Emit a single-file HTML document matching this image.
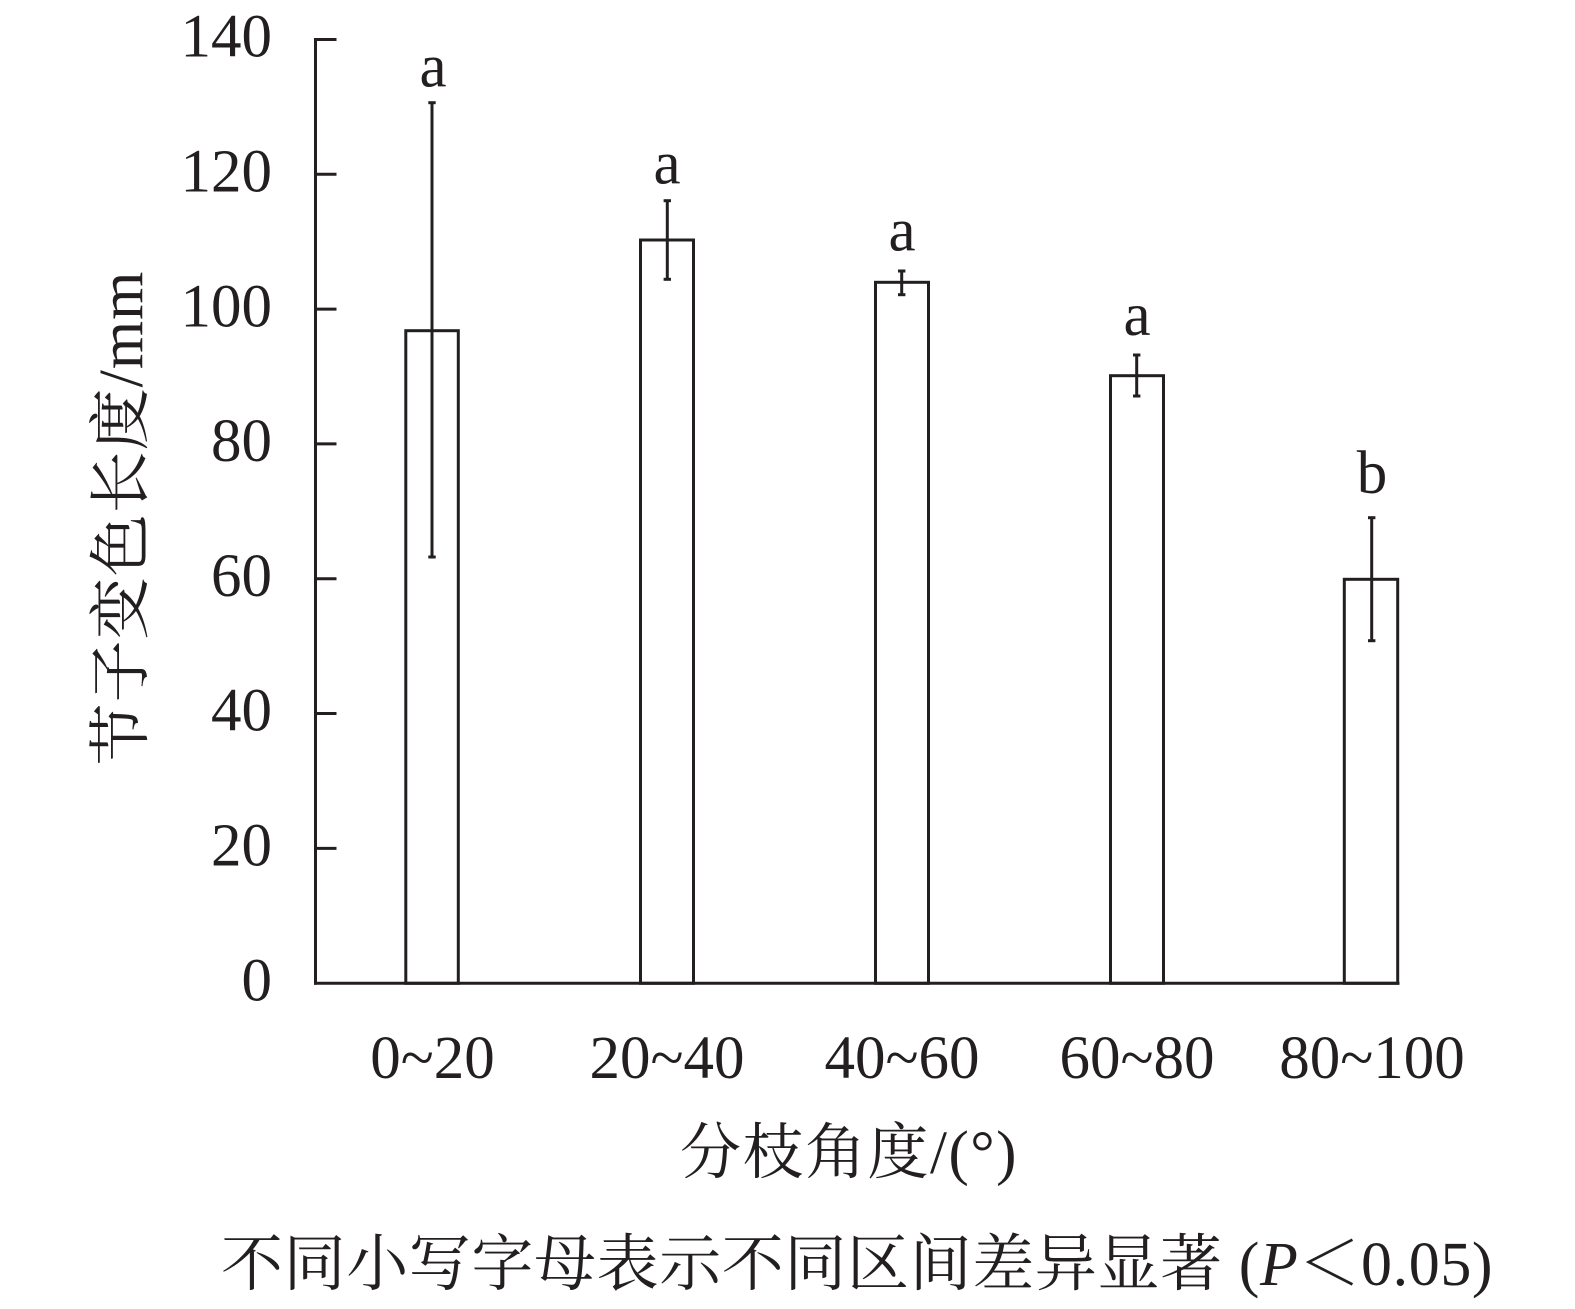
<!DOCTYPE html>
<html>
<head>
<meta charset="utf-8">
<style>
  html, body { margin: 0; padding: 0; background: #ffffff; }
  svg { display: block; }
  text { fill: #231f20; }
  .num { font-family: "Liberation Serif", "Noto Serif CJK SC", serif; font-size: 61px; }
  .cjk { font-family: "Liberation Serif", "Noto Serif CJK SC", serif; font-size: 61px; }
</style>
</head>
<body>
<svg width="1575" height="1309" viewBox="0 0 1575 1309" xmlns="http://www.w3.org/2000/svg">
  <rect width="1575" height="1309" fill="#ffffff"/>
  <g stroke="#231f20" stroke-width="3" fill="none" stroke-linecap="butt">
    <!-- axes -->
    <line x1="315.5" y1="38" x2="315.5" y2="984.8"/>
    <line x1="314" y1="983.3" x2="1399.5" y2="983.3"/>
    <!-- ticks -->
    <line x1="315.5" y1="39.5" x2="336.5" y2="39.5"/>
    <line x1="315.5" y1="174.3" x2="336.5" y2="174.3"/>
    <line x1="315.5" y1="309.1" x2="336.5" y2="309.1"/>
    <line x1="315.5" y1="443.9" x2="336.5" y2="443.9"/>
    <line x1="315.5" y1="578.7" x2="336.5" y2="578.7"/>
    <line x1="315.5" y1="713.5" x2="336.5" y2="713.5"/>
    <line x1="315.5" y1="848.4" x2="336.5" y2="848.4"/>

    <!-- bars -->
    <rect x="405.8" y="330.7" width="52.5" height="652.6"/>
    <rect x="640.5" y="240" width="53" height="743.3"/>
    <rect x="875.5" y="282.3" width="53" height="701"/>
    <rect x="1110.5" y="375.7" width="53" height="607.6"/>
    <rect x="1344.3" y="579.3" width="53.4" height="404"/>

    <!-- error bars -->
    <line x1="432" y1="102.7" x2="432" y2="557"/>
    <line x1="428.3" y1="102.7" x2="435.7" y2="102.7"/>
    <line x1="428.3" y1="557" x2="435.7" y2="557"/>

    <line x1="667.3" y1="200.7" x2="667.3" y2="279.3"/>
    <line x1="663.6" y1="200.7" x2="671" y2="200.7"/>
    <line x1="663.6" y1="279.3" x2="671" y2="279.3"/>

    <line x1="901.7" y1="271" x2="901.7" y2="294.7"/>
    <line x1="898" y1="271" x2="905.4" y2="271"/>
    <line x1="898" y1="294.7" x2="905.4" y2="294.7"/>

    <line x1="1136.7" y1="355" x2="1136.7" y2="396"/>
    <line x1="1133" y1="355" x2="1140.4" y2="355"/>
    <line x1="1133" y1="396" x2="1140.4" y2="396"/>

    <line x1="1371.7" y1="517.7" x2="1371.7" y2="640.7"/>
    <line x1="1368" y1="517.7" x2="1375.4" y2="517.7"/>
    <line x1="1368" y1="640.7" x2="1375.4" y2="640.7"/>
  </g>

  <!-- y tick labels -->
  <g class="num" text-anchor="end">
    <text x="272" y="56.7">140</text>
    <text x="272" y="191.5">120</text>
    <text x="272" y="326.3">100</text>
    <text x="272" y="461.1">80</text>
    <text x="272" y="595.9">60</text>
    <text x="272" y="730.7">40</text>
    <text x="272" y="865.5">20</text>
    <text x="272" y="1000.3">0</text>
  </g>

  <!-- significance letters -->
  <g class="num" text-anchor="middle">
    <text x="433" y="86.7">a</text>
    <text x="667" y="183.3">a</text>
    <text x="902" y="250.7">a</text>
    <text x="1137" y="335">a</text>
    <text x="1372" y="493">b</text>
  </g>

  <!-- x tick labels -->
  <g class="num" text-anchor="middle">
    <text x="432.5" y="1078">0~20</text>
    <text x="667" y="1078">20~40</text>
    <text x="902" y="1078">40~60</text>
    <text x="1137" y="1078">60~80</text>
    <text x="1372" y="1078">80~100</text>
  </g>

  <!-- x axis title -->
  <text class="cjk" x="680" y="1173" letter-spacing="1.5">分枝角度/(°)</text>

  <!-- y axis title -->
  <text class="cjk" text-anchor="middle" style="font-size:62px" letter-spacing="1" transform="translate(142,518) rotate(-90)">节子变色长度/mm</text>

  <!-- caption -->
  <text x="221" y="1285" letter-spacing="0.6" style="font-family: 'Liberation Serif', 'Noto Serif CJK SC', serif; font-size: 62px;">不同小写字母表示不同区间差异显著 (<tspan font-style="italic">P</tspan>＜0.05)</text>
</svg>
</body>
</html>
